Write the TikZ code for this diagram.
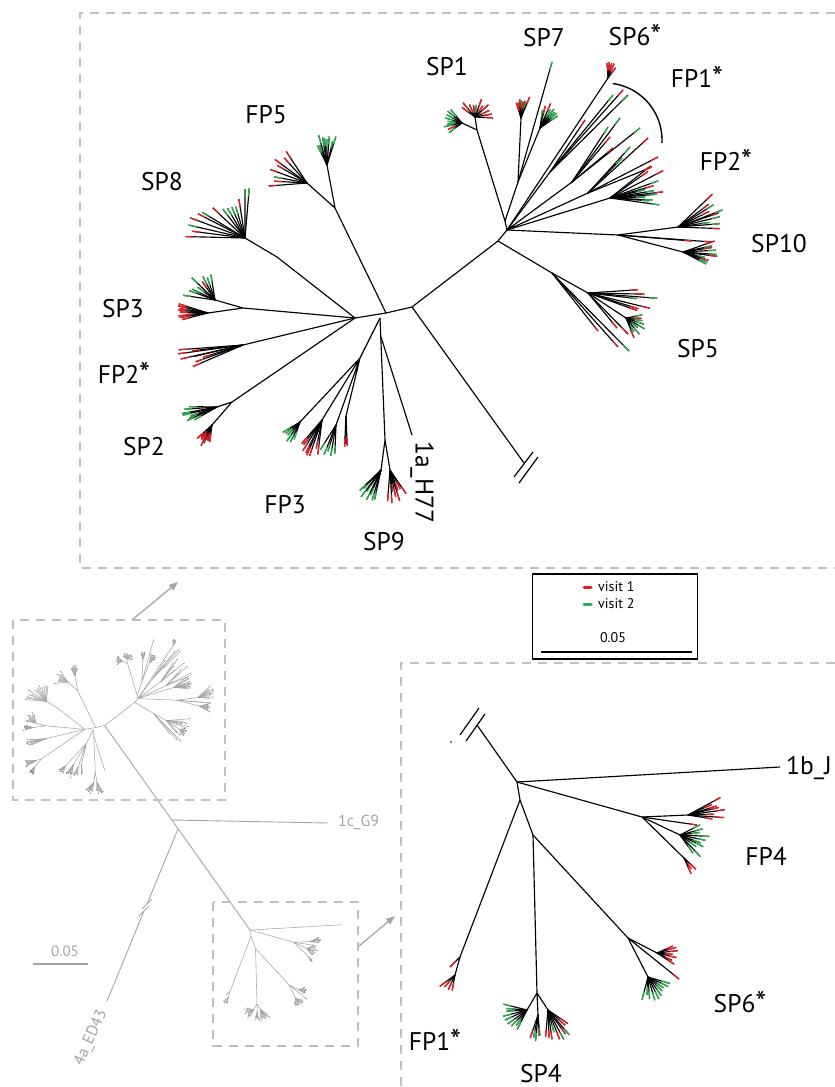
\documentclass[tikz,border=0pt]{standalone}
\usepackage{fontspec}
\setmainfont{PT Sans}
\usetikzlibrary{calc,arrows.meta}
\definecolor{vred}{RGB}{237,28,36}
\definecolor{vgreen}{RGB}{40,175,75}
\definecolor{boxgray}{RGB}{192,192,192}
\definecolor{minigray}{RGB}{165,165,165}
\definecolor{minidark}{RGB}{120,120,120}
\newcommand\bigast{{\fontsize{31}{31}\selectfont\raisebox{-1.5pt}{*}}}
\tikzset{
  br/.style={black, line width=1.15pt},
  tipR/.style={vred, line width=1.3pt},
  tipG/.style={vgreen, line width=1.3pt},
  lab/.style={font=\fontsize{25.5}{29}\selectfont, inner sep=0pt, anchor=base},
  glab/.style={font=\fontsize{16}{19}\selectfont, inner sep=0pt, minigray},
  dbox/.style={boxgray, line width=1.5pt, dash pattern=on 9pt off 7pt},
  garrow/.style={minigray, line width=1.3pt, -{Triangle[length=9pt,width=7pt]}},
  brk/.style={black, line width=1.2pt},
}
\def\tiplen{8pt}
\newcommand\tipline[3]{\draw[br] #1 -- #2; \draw[#3] ($#2!\tiplen!#1$) -- #2;}
\newcommand\fan[6]{%
  \foreach \j in {1,...,#4}{%
    \pgfmathsetmacro\fa{#2+(#3-#2)*(\j-0.5)/#4+4*(rnd-0.5)}%
    \pgfmathsetmacro\fl{#5*(0.75+0.45*rnd)}%
    \pgfmathtruncatemacro\fc{rnd<#6 ? 1 : 0}%
    \ifnum\fc=1 \def\fs{tipR}\else\def\fs{tipG}\fi
    \path #1 ++(\fa:\fl) coordinate (fe);
    \tipline{#1}{(fe)}{\fs}%
  }}
\newcommand\toptree{%
  \coordinate (B) at (412,307);
  \coordinate (A) at (386,313);
  \coordinate (E) at (355,318);
  \coordinate (D) at (498,241);
  \coordinate (C) at (507,230);
  \coordinate (Cp) at (505,221);
  \coordinate (A2) at (380,318);
  \draw[br] (E) -- (A) -- (B) -- (D) -- (C) -- (Cp);
  % SP1
  \coordinate (s1) at (477,130);
  \coordinate (s1r) at (475,117);
  \coordinate (s1g) at (462,123);
  \draw[br] (Cp) -- (s1) -- (s1r) (s1) -- (s1g);
  \fan{(s1r)}{-150}{10}{11}{16}{0.9}
  \fan{(s1g)}{140}{235}{9}{16}{0.1}
  % SP7
  \coordinate (n7) at (518,182);
  \coordinate (n7a) at (521,118);
  \coordinate (n7b) at (540,128);
  \draw[br] (Cp) -- (n7) -- (n7a) (n7) -- (n7b);
  \fan{(n7a)}{-110}{-65}{8}{19}{0.85}
  \fan{(n7b)}{-85}{-30}{8}{23}{0.2}
  \tipline{(n7)}{(552,62)}{tipG}
  % SP6*
  \coordinate (n6) at (608,78);
  \draw[br] (C) -- (n6);
  \fan{(n6)}{-100}{-50}{5}{17}{1}
  % FP1*
  \coordinate (f1) at (550,172);
  \coordinate (f2) at (572,182);
  \coordinate (f3) at (588,193);
  \draw[br] (C) -- (f1) (C) -- (f2) (C) -- (f3);
  \tipline{(f1)}{(585,120)}{tipR}
  \tipline{(f1)}{(613,95)}{tipG}
  \tipline{(f1)}{(623,90)}{tipR}
  \tipline{(f1)}{(628,95)}{tipG}
  \tipline{(f2)}{(608,127)}{tipG}
  \tipline{(f2)}{(620,118)}{tipG}
  \tipline{(f2)}{(610,137)}{tipR}
  \tipline{(f2)}{(640,128)}{tipG}
  \tipline{(f2)}{(613,148)}{tipR}
  \tipline{(f3)}{(648,138)}{tipR}
  \tipline{(f3)}{(630,147)}{tipG}
  \tipline{(f3)}{(622,158)}{tipG}
  \tipline{(f3)}{(658,157)}{tipR}
  \tipline{(f3)}{(652,167)}{tipR}
  % FP2* right
  \coordinate (n2) at (610,198);
  \draw[br] (C) -- (n2);
  \fan{(n2)}{-42}{-25}{3}{50}{1}
  \fan{(n2)}{-20}{8}{10}{46}{0.15}
  % SP10
  \coordinate (p10) at (618,235);
  \coordinate (p10a) at (678,227);
  \coordinate (p10b) at (683,252);
  \draw[br] (C) -- (p10) -- (p10a) (p10) -- (p10b);
  \fan{(p10a)}{-45}{5}{10}{42}{0.5}
  \fan{(p10b)}{-20}{30}{10}{30}{0.4}
  \tipline{(p10)}{(712,242)}{tipR}
  \tipline{(p10)}{(692,241)}{tipR}
  % SP5
  \coordinate (p5) at (552,273);
  \coordinate (p5b) at (588,293);
  \coordinate (p5c) at (626,318);
  \draw[br] (D) -- (p5) -- (p5b) -- (p5c);
  \tipline{(p5)}{(598,331)}{tipR}
  \tipline{(p5)}{(618,347)}{tipR}
  \tipline{(p5)}{(629,351)}{tipG}
  \fan{(p5b)}{-5}{22}{7}{58}{0.8}
  \fan{(p5c)}{-15}{75}{9}{18}{0.1}
  \tipline{(p5b)}{(617,328)}{tipR}
  \tipline{(p5b)}{(628,334)}{tipR}
  % FP5
  \coordinate (p) at (335,208);
  \coordinate (pg) at (327,165);
  \coordinate (pq) at (307,183);
  \draw[br] (A) -- (p) -- (pg) (p) -- (pq);
  \fan{(pg)}{-120}{-70}{9}{26}{0.1}
  \fan{(pq)}{170}{240}{8}{34}{0.85}
  % SP8
  \coordinate (p8) at (277,257);
  \coordinate (p8a) at (245,238);
  \draw[br] (E) -- (p8) -- (p8a);
  \fan{(p8a)}{180}{215}{6}{52}{0.6}
  \fan{(p8a)}{220}{280}{8}{42}{0.3}
  % SP3
  \coordinate (p3) at (243,308);
  \coordinate (p3g) at (215,300);
  \coordinate (p3r) at (208,313);
  \draw[br] (E) -- (p3) -- (p3g) (p3) -- (p3r);
  \fan{(p3g)}{185}{265}{9}{28}{0.05}
  \fan{(p3r)}{165}{198}{9}{27}{1}
  % FP2* left
  \coordinate (pf2) at (243,345);
  \draw[br] (E) -- (pf2);
  \fan{(pf2)}{155}{178}{8}{55}{0.95}
  % SP2
  \coordinate (p2) at (232,402);
  \coordinate (p2g) at (217,407);
  \coordinate (p2r) at (212,425);
  \draw[br] (E) -- (p2) -- (p2g) (p2) -- (p2r);
  \fan{(p2g)}{148}{182}{8}{30}{0.05}
  \fan{(p2r)}{95}{140}{9}{20}{1}
  % FP3
  \coordinate (p3b) at (360,358);
  \coordinate (q1) at (300,422);
  \coordinate (q2) at (322,420);
  \coordinate (q3) at (336,425);
  \coordinate (q4) at (346,416);
  \draw[br] (A2) -- (p3b) -- (q1) (p3b) -- (q2) (p3b) -- (q3) (p3b) -- (q4);
  \fan{(q1)}{105}{155}{6}{22}{0}
  \fan{(q2)}{95}{135}{8}{32}{1}
  \fan{(q3)}{88}{125}{5}{28}{0}
  \fan{(q4)}{85}{95}{3}{32}{1}
  % SP9
  \coordinate (p9) at (385,440);
  \coordinate (p9g) at (381,470);
  \coordinate (p9r) at (390,470);
  \draw[br] (A2) -- (p9) -- (p9g) (p9) -- (p9r);
  \fan{(p9g)}{100}{140}{8}{28}{0}
  \fan{(p9r)}{55}{95}{8}{28}{1}
  % 1a_H77
  \coordinate (h) at (381,337);
  \coordinate (hE) at (412,435);
  \draw[br] (h) -- (hE);
}
\newcommand\bottree{%
  \coordinate (R) at (517,782);
  \coordinate (S) at (520,800);
  \coordinate (T) at (533,835);
  \coordinate (J) at (780,767);
  \draw[br] (R) -- (S) -- (T);
  \draw[br] (R) -- (J);
  % FP4
  \coordinate (f4) at (642,817);
  \coordinate (f4a) at (688,815);
  \coordinate (f4b) at (680,835);
  \coordinate (f4c) at (684,858);
  \draw[br] (R) -- (f4) -- (f4a) (f4) -- (f4b) (f4) -- (f4c);
  \fan{(f4a)}{-30}{10}{8}{32}{1}
  \tipline{(f4)}{(697,825)}{tipR}
  \fan{(f4b)}{-30}{60}{10}{25}{0.05}
  \fan{(f4c)}{40}{70}{3}{16}{1}
  % FP1*
  \coordinate (fp1) at (460,957);
  \coordinate (fp1a) at (455,975);
  \draw[br] (S) -- (fp1) -- (fp1a);
  \tipline{(fp1)}{(450,967)}{tipR}
  \fan{(fp1a)}{95}{150}{4}{18}{1}
  % SP4
  \coordinate (p4) at (537,993);
  \coordinate (p4a) at (527,1010);
  \coordinate (p4b) at (538,1015);
  \coordinate (p4c) at (548,1010);
  \draw[br] (T) -- (p4) -- (p4a) (p4) -- (p4b) (p4) -- (p4c);
  \fan{(p4a)}{110}{200}{9}{24}{0.05}
  \fan{(p4b)}{80}{110}{5}{22}{0.3}
  \fan{(p4c)}{30}{100}{10}{28}{0.85}
  % SP6*
  \coordinate (p6) at (628,938);
  \coordinate (p6a) at (657,953);
  \coordinate (p6b) at (648,977);
  \draw[br] (T) -- (p6) -- (p6a) (p6) -- (p6b);
  \fan{(p6a)}{-30}{40}{7}{20}{1}
  \tipline{(p6)}{(679,979)}{tipR}
  \fan{(p6b)}{10}{110}{10}{21}{0.05}
}
\begin{document}
\begin{tikzpicture}[x=1pt,y=-1pt]
\pgfmathsetseed{7}
\useasboundingbox (0,0) rectangle (835,1087);
\fill[white] (0,0) rectangle (835,1087);
% ---------- overview (gray) ----------
\begin{scope}[shift={(-39.5,618)}, scale=0.35,
  br/.style={minigray, line width=0.55pt},
  tipR/.style={minidark, line width=0.55pt},
  tipG/.style={minidark, line width=0.55pt}]
  \def\tiplen{2.5pt}
  \toptree
\end{scope}
\begin{scope}[shift={(69,656.3)}, scale=0.35,
  br/.style={minigray, line width=0.55pt},
  tipR/.style={minidark, line width=0.55pt},
  tipG/.style={minidark, line width=0.55pt}]
  \def\tiplen{2.5pt}
  \bottree
\end{scope}
\coordinate (mB) at (104.7,725.5);
\coordinate (mR) at (250,930);
\coordinate (mG) at (172,820);
\coordinate (mGe) at (328,823);
\coordinate (mH) at (178,829);
\coordinate (mH1) at (147,904);
\coordinate (mH2) at (144,911);
\coordinate (mHe) at (107,1001);
\draw[minigray, line width=0.9pt] (mB) -- (mR);
\draw[minigray, line width=0.9pt] (mG) -- (mGe);
\draw[minigray, line width=0.9pt] (mH) -- (mH1) (mH2) -- (mHe);
\draw[minigray, line width=1pt] (142,909) -- (152,899) (139,916) -- (149,906);
\node[glab, anchor=west] (l1c) at (338,822) {1c\_G9};
\node[glab, rotate=66] (l4a) at (91,1038) {4a\_ED43};
\node[glab, font=\fontsize{15}{18}\selectfont] (lsc) at (65,951) {0.05};
\coordinate (sc1) at (33,964);
\coordinate (sc2) at (88,964);
\draw[minigray, line width=1.5pt] (sc1) -- (sc2);
% dashed boxes and arrows
\draw[dbox] (13,620) rectangle (225,800);
\draw[dbox] (213,902) rectangle (358,1046);
\draw[dbox] (835,13) -- (80,13) -- (80,568) -- (835,568);
\draw[dbox] (835,663) -- (401,663) -- (401,1087);
\coordinate (ar1) at (132,620);
\coordinate (ar2) at (178,582);
\coordinate (ar3) at (359,946);
\coordinate (ar4) at (395,916);
\draw[garrow] (ar1) -- (ar2);
\draw[garrow] (ar3) -- (ar4);
% ---------- main top tree ----------
\toptree
\coordinate (bk) at (524,463);
\draw[br] (B) -- (bk);
\draw[brk] (514,477) -- (533,452) (519,483) -- (538,457);
\draw[black, line width=1.4pt] plot[domain=-82:3, samples=40] ({605+57*cos(\x)},{140+57*sin(\x)});
% ---------- main bottom tree ----------
\bottree
\coordinate (bkl) at (477,725);
\draw[br] (R) -- (bkl);
\draw[brk] (460,735) -- (479,708) (466,741) -- (485,714);
\fill (451,742) circle (0.8);
% ---------- labels ----------
\node[lab] (lSP1) at (447,75) {SP1};
\node[lab] (lSP7) at (544,46) {SP7};
\node[lab] (lSP6) at (635,45) {SP6\bigast};
\node[lab] (lFP1) at (697,87) {FP1\bigast};
\node[lab] (lFP2) at (726,170) {FP2\bigast};
\node[lab] (lSP10) at (779,252) {SP10};
\node[lab] (lSP5) at (698,357) {SP5};
\node[lab] (lFP5) at (266,123) {FP5};
\node[lab] (lSP8) at (162,190) {SP8};
\node[lab] (lSP3) at (123,317) {SP3};
\node[lab] (lFP2b) at (124,383) {FP2\bigast};
\node[lab] (lSP2) at (144,455) {SP2};
\node[lab] (lFP3) at (285,513) {FP3};
\node[lab] (lSP9) at (384,550) {SP9};
\node[lab, rotate=-90, anchor=west] (lH77) at (422,441) {1a\_H77};
\node[lab] (lFP4) at (766,865) {FP4};
\node[lab] (lSP6b) at (740,1012) {SP6\bigast};
\node[lab] (lFP1b) at (435,1050) {FP1\bigast};
\node[lab] (lSP4) at (541,1082) {SP4};
\node[lab, anchor=base west] (l1b) at (786,774) {1b\_J};
% ---------- legend ----------
\node[draw=black, line width=1.5pt, minimum width=165pt, minimum height=85pt, inner sep=0pt, fill=white] (leg) at (615,616.5) {};
\coordinate (lr1) at (584,587);
\coordinate (lr2) at (591,587);
\coordinate (lg1) at (584,604);
\coordinate (lg2) at (591,604);
\draw[vred, line width=3pt, line cap=round] (lr1) -- (lr2);
\draw[vgreen, line width=3pt, line cap=round] (lg1) -- (lg2);
\node[font=\fontsize{14}{16}\selectfont, anchor=west, inner sep=0pt] (v1) at (598,587) {visit 1};
\node[font=\fontsize{14}{16}\selectfont, anchor=west, inner sep=0pt] (v2) at (598,604) {visit 2};
\node[font=\fontsize{14}{16}\selectfont, inner sep=0pt] (l005) at (613,638) {0.05};
\coordinate (ls1) at (541,652);
\coordinate (ls2) at (692,652);
\draw[black, line width=1.2pt] (ls1) -- (ls2);
\end{tikzpicture}
\end{document}
